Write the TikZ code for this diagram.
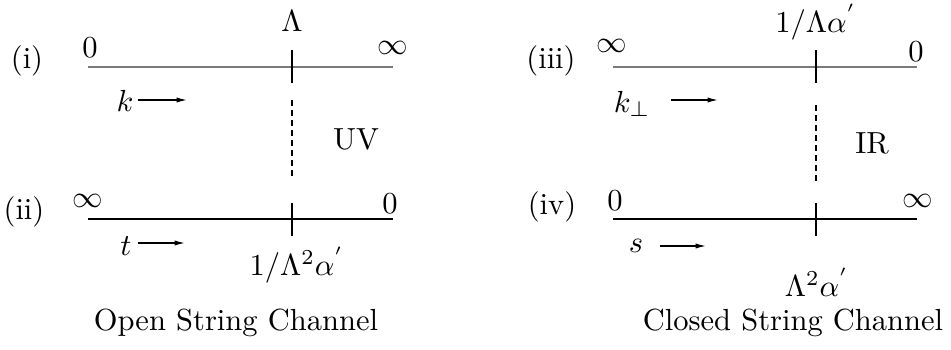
\documentclass[tikz,border=0pt]{standalone}
\usetikzlibrary{arrows.meta}
\begin{document}
\begin{tikzpicture}[x=0.01152cm,y=-0.01152cm,
  axis/.style={line width=0.4pt},
  greyaxis/.style={line width=0.6pt,draw=black!52},
  tickmark/.style={line width=0.4pt},
  dashline/.style={line width=0.4pt,dash pattern=on 1.9pt off 1.4pt},
  dirarrow/.style={line width=0.4pt,-{Latex[length=3.4pt,width=1.7pt]}},
  lbl/.style={inner sep=0pt,anchor=center}]
\useasboundingbox (0,0) rectangle (951,350);
% ---- left: open string channel
\coordinate (iL) at (88,67); \coordinate (iR) at (393,67);
\coordinate (iT) at (292,50); \coordinate (iB) at (292,83);
\draw[greyaxis] (iL) -- (iR);
\draw[tickmark] (iT) -- (iB);
\node[lbl] (lab1) at (27,61) {(i)};
\node[lbl] (i0) at (90,48) {$0$};
\node[lbl] (iinf) at (393,48) {$\infty$};
\node[lbl] (iLam) at (292,21) {$\Lambda$};
\node[lbl] (kk) at (125,101) {$k$};
\coordinate (ka) at (138,100); \coordinate (kb) at (187,100);
\draw[dirarrow] (ka) -- (kb);
\coordinate (d1a) at (292,100); \coordinate (d1b) at (292,178);
\draw[dashline] (d1a) -- (d1b);
\node[lbl] (uv) at (356,139) {UV};
\coordinate (iiL) at (88,219); \coordinate (iiR) at (393,219);
\coordinate (iiT) at (292,203); \coordinate (iiB) at (292,236);
\draw[axis] (iiL) -- (iiR);
\draw[tickmark] (iiT) -- (iiB);
\node[lbl] (lab2) at (24,212) {(ii)};
\node[lbl] (iiinf) at (88,201) {$\infty$};
\node[lbl] (ii0) at (390,204) {$0$};
\node[lbl] (tt) at (126,246) {$t$};
\coordinate (ta) at (138,243); \coordinate (tb) at (185,243);
\draw[dirarrow] (ta) -- (tb);
\node[lbl] (iilab) at (297,265) {$1/\Lambda^2\alpha^{'}$};
\node[lbl] (open) at (236,323) {Open String Channel};
% ---- right: closed string channel
\coordinate (iiiL) at (613,67); \coordinate (iiiR) at (917,67);
\coordinate (iiiT) at (816,50); \coordinate (iiiB) at (816,83);
\draw[greyaxis] (iiiL) -- (iiiR);
\draw[tickmark] (iiiT) -- (iiiB);
\node[lbl] (lab3) at (551,61) {(iii)};
\node[lbl] (iiiinf) at (612,46) {$\infty$};
\node[lbl] (iii0) at (916,52) {$0$};
\node[lbl] (iiilab) at (816,22) {$1/\Lambda\alpha^{'}$};
\node[lbl] (kp) at (632,104) {$k_\perp$};
\coordinate (kpa) at (671,100); \coordinate (kpb) at (718,100);
\draw[dirarrow] (kpa) -- (kpb);
\coordinate (d2a) at (816,105); \coordinate (d2b) at (816,182);
\draw[dashline] (d2a) -- (d2b);
\node[lbl] (ir) at (872,143) {IR};
\coordinate (ivL) at (613,219); \coordinate (ivR) at (917,219);
\coordinate (ivT) at (816,203); \coordinate (ivB) at (816,236);
\draw[axis] (ivL) -- (ivR);
\draw[tickmark] (ivT) -- (ivB);
\node[lbl] (lab4) at (552,207) {(iv)};
\node[lbl] (iv0) at (615,201) {$0$};
\node[lbl] (ivinf) at (918,201) {$\infty$};
\node[lbl] (ss) at (636,246) {$s$};
\coordinate (sa) at (660,246); \coordinate (sb) at (706,246);
\draw[dirarrow] (sa) -- (sb);
\node[lbl] (ivlab) at (817,282) {$\Lambda^2\alpha^{'}$};
\node[lbl] (closed) at (793,323) {Closed String Channel};
\end{tikzpicture}
\end{document}
